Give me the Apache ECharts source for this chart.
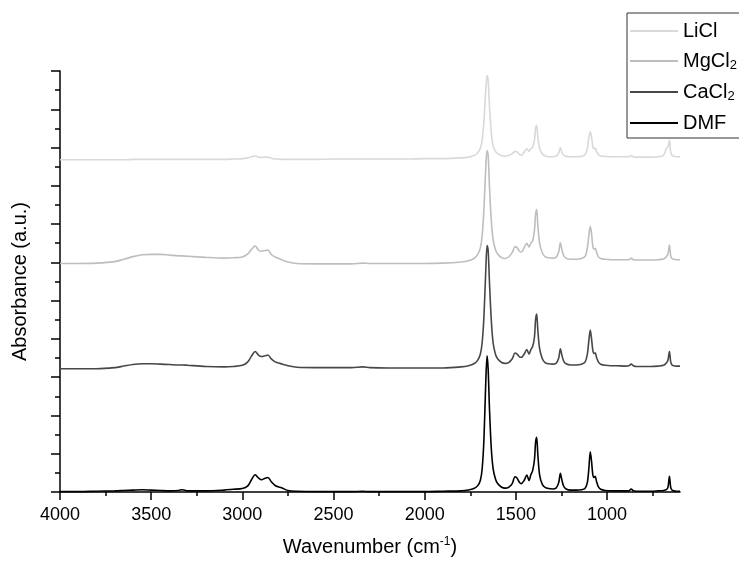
<!DOCTYPE html>
<html>
<head>
<meta charset="utf-8">
<script src="https://cdn.jsdelivr.net/npm/echarts@6/dist/echarts.min.js"></script>
<style>
  html, body { margin: 0; padding: 0; background: #fff; }
  #chart { width: 739px; height: 562px; }
</style>
</head>
<body>
<div id="chart"></div>
<script>
// wavenumber grid (cm-1), shared by all four spectra
const wavenumbers = [
  4000, 3900, 3800, 3700, 3650, 3600, 3550, 3500, 3450, 3400, 3350, 3330, 3300, 3200, 3100, 3050,
  3000, 2970, 2950, 2930, 2910, 2895, 2875, 2860, 2840, 2820, 2800, 2780, 2750, 2700, 2600, 2500,
  2400, 2340, 2300, 2200, 2100, 2000, 1900, 1800, 1760, 1730, 1710, 1695, 1685, 1675, 1665, 1658,
  1652, 1645, 1635, 1625, 1612, 1600, 1580, 1560, 1540, 1520, 1505, 1495, 1480, 1470, 1455, 1440,
  1428, 1418, 1408, 1398, 1392, 1386, 1380, 1370, 1355, 1340, 1320, 1300, 1280, 1265, 1256, 1248,
  1238, 1225, 1200, 1170, 1140, 1120, 1108, 1100, 1092, 1085, 1078, 1071, 1065, 1058, 1048, 1035,
  1010, 980, 950, 900, 880, 868, 856, 840, 800, 760, 720, 690, 675, 666, 658, 651,
  644, 635, 620, 600
];

// absorbance, stacked offsets already included (a.u.)
const dmf = [
  0.01, 0.01, 0.02, 0.03, 0.04, 0.05, 0.06, 0.05, 0.04, 0.03, 0.04, 0.06, 0.03, 0.03, 0.05, 0.07,
  0.09, 0.16, 0.32, 0.45, 0.36, 0.32, 0.36, 0.38, 0.26, 0.17, 0.13, 0.10, 0.04, 0.02, 0.01, 0.01,
  0.01, 0.02, 0.01, 0.01, 0.01, 0.01, 0.02, 0.03, 0.05, 0.09, 0.16, 0.30, 0.60, 1.40, 2.90, 3.56,
  3.20, 2.20, 1.15, 0.62, 0.34, 0.22, 0.13, 0.10, 0.12, 0.22, 0.40, 0.37, 0.25, 0.22, 0.30, 0.44,
  0.30, 0.45, 0.56, 0.85, 1.30, 1.43, 1.00, 0.45, 0.20, 0.12, 0.09, 0.08, 0.10, 0.25, 0.49, 0.32,
  0.15, 0.08, 0.05, 0.05, 0.06, 0.10, 0.25, 0.60, 1.05, 0.80, 0.45, 0.38, 0.41, 0.28, 0.14, 0.07,
  0.04, 0.03, 0.03, 0.03, 0.03, 0.08, 0.03, 0.02, 0.02, 0.02, 0.03, 0.04, 0.06, 0.12, 0.41, 0.12,
  0.05, 0.03, 0.02, 0.02
];
const caCl2 = [
  3.22, 3.22, 3.22, 3.25, 3.29, 3.33, 3.35, 3.35, 3.34, 3.33, 3.32, 3.32, 3.31, 3.28, 3.27, 3.28,
  3.31, 3.40, 3.55, 3.67, 3.57, 3.54, 3.56, 3.58, 3.47, 3.40, 3.37, 3.34, 3.30, 3.26, 3.25, 3.25,
  3.25, 3.27, 3.25, 3.24, 3.24, 3.24, 3.24, 3.27, 3.30, 3.35, 3.44, 3.60, 3.90, 4.60, 5.80, 6.44,
  6.30, 5.50, 4.50, 3.90, 3.60, 3.48, 3.39, 3.36, 3.38, 3.48, 3.63, 3.61, 3.53, 3.52, 3.60, 3.72,
  3.60, 3.72, 3.80, 4.05, 4.50, 4.65, 4.25, 3.75, 3.48, 3.38, 3.35, 3.34, 3.36, 3.50, 3.74, 3.58,
  3.42, 3.35, 3.32, 3.32, 3.34, 3.40, 3.60, 3.95, 4.23, 4.00, 3.70, 3.62, 3.64, 3.52, 3.40, 3.34,
  3.31, 3.30, 3.30, 3.29, 3.30, 3.34, 3.30, 3.28, 3.28, 3.28, 3.29, 3.31, 3.37, 3.45, 3.67, 3.40,
  3.32, 3.30, 3.29, 3.29
];
const mgCl2 = [
  5.97, 5.97, 5.98, 6.02, 6.08, 6.15, 6.20, 6.21, 6.21, 6.19, 6.17, 6.17, 6.16, 6.13, 6.11, 6.12,
  6.14, 6.22, 6.34, 6.43, 6.31, 6.29, 6.31, 6.32, 6.20, 6.14, 6.10, 6.06, 6.01, 5.97, 5.96, 5.96,
  5.96, 5.98, 5.97, 5.97, 5.97, 5.97, 5.98, 6.01, 6.04, 6.10, 6.20, 6.38, 6.70, 7.40, 8.50, 8.92,
  8.80, 8.00, 7.10, 6.60, 6.33, 6.22, 6.13, 6.10, 6.14, 6.26, 6.41, 6.39, 6.29, 6.27, 6.38, 6.50,
  6.40, 6.50, 6.56, 6.85, 7.25, 7.38, 7.00, 6.50, 6.25, 6.15, 6.12, 6.11, 6.13, 6.28, 6.51, 6.34,
  6.18, 6.11, 6.08, 6.08, 6.10, 6.16, 6.38, 6.70, 6.94, 6.75, 6.42, 6.35, 6.37, 6.27, 6.15, 6.10,
  6.08, 6.07, 6.07, 6.07, 6.07, 6.11, 6.07, 6.06, 6.06, 6.06, 6.07, 6.09, 6.15, 6.22, 6.45, 6.17,
  6.10, 6.08, 6.07, 6.07
];
const liCl = [
  8.68, 8.68, 8.68, 8.68, 8.68, 8.69, 8.69, 8.69, 8.69, 8.69, 8.69, 8.69, 8.69, 8.69, 8.69, 8.70,
  8.71, 8.73, 8.76, 8.78, 8.75, 8.74, 8.75, 8.75, 8.72, 8.70, 8.70, 8.69, 8.69, 8.69, 8.69, 8.70,
  8.70, 8.70, 8.70, 8.70, 8.70, 8.71, 8.71, 8.73, 8.75, 8.79, 8.86, 8.98, 9.20, 9.70, 10.50, 10.88,
  10.75, 10.10, 9.40, 9.05, 8.90, 8.84, 8.79, 8.77, 8.79, 8.84, 8.90, 8.89, 8.82, 8.80, 8.88, 8.97,
  8.90, 8.97, 9.01, 9.20, 9.50, 9.58, 9.30, 8.98, 8.83, 8.78, 8.76, 8.76, 8.77, 8.86, 9.00, 8.88,
  8.80, 8.77, 8.76, 8.76, 8.77, 8.82, 8.98, 9.25, 9.41, 9.28, 9.02, 8.97, 8.98, 8.90, 8.82, 8.78,
  8.77, 8.76, 8.76, 8.76, 8.76, 8.79, 8.76, 8.75, 8.75, 8.75, 8.76, 8.80, 8.98, 9.02, 9.19, 8.88,
  8.80, 8.77, 8.76, 8.76
];

const seriesNames = ["LiCl", "MgCl2", "CaCl2", "DMF"];
const seriesColors = ["#d9d9d9", "#bebebe", "#474747", "#000000"];
const majorTicks = [4000, 3500, 3000, 2500, 2000, 1500, 1000];
const minorTicks = [3750, 3250, 2750, 2250, 1750, 1250, 750];

const font = "'Liberation Sans', Arial, sans-serif";
const chart = echarts.init(document.getElementById("chart"), null, { renderer: "canvas" });

const spectra = [liCl, mgCl2, caCl2, dmf];
const series = spectra.map((values, k) => ({
  name: seriesNames[k],
  type: "line",
  data: wavenumbers.map((w, i) => [w, values[i]]),
  symbol: "none",
  smooth: 0.3,
  lineStyle: { width: 1.6, color: seriesColors[k] },
  itemStyle: { color: seriesColors[k] },
  z: 2 + k,
}));

const axisLineStyle = { color: "#000", width: 1.5 };

chart.setOption({
  animation: false,
  grid: { left: 60, right: 59, top: 71, bottom: 67 },
  legend: {
    orient: "vertical",
    left: 627,
    top: 13,
    padding: [8, 60, 5, 3],
    icon: "rect",
    itemWidth: 48,
    itemHeight: 2,
    itemGap: 10,
    borderColor: "#333",
    borderWidth: 1,
    textStyle: {
      fontFamily: font,
      fontSize: 20,
      color: "#000",
      rich: { s: { fontFamily: font, fontSize: 13, padding: [9, 0, 0, 0] } },
    },
    formatter: (name) => name.replace(/2$/, "{s|2}"),
    data: seriesNames,
  },
  xAxis: [
    {
      type: "value",
      min: 600,
      max: 4000,
      inverse: true,
      name: "Wavenumber (cm{sup|-1})",
      nameLocation: "middle",
      nameGap: 44,
      nameTextStyle: {
        fontFamily: font,
        fontSize: 20,
        color: "#000",
        rich: { sup: { fontFamily: font, fontSize: 12, padding: [0, 0, 10, 0] } },
      },
      axisLine: { show: true, onZero: false, lineStyle: axisLineStyle },
      axisTick: { show: true, inside: false, length: 8, lineStyle: axisLineStyle, customValues: majorTicks },
      axisLabel: {
        show: true,
        margin: 14,
        fontFamily: font,
        fontSize: 18,
        color: "#000",
        customValues: majorTicks,
        formatter: (v) => String(v),
      },
      splitLine: { show: false },
    },
    {
      type: "value",
      min: 600,
      max: 4000,
      inverse: true,
      position: "bottom",
      axisLine: { show: false },
      axisTick: { show: true, inside: false, length: 4, lineStyle: axisLineStyle, customValues: minorTicks },
      axisLabel: { show: false },
      splitLine: { show: false },
    },
  ],
  yAxis: {
    type: "value",
    min: 0,
    max: 11,
    interval: 1,
    name: "Absorbance (a.u.)",
    nameLocation: "middle",
    nameGap: 30,
    nameTextStyle: { fontFamily: font, fontSize: 20, color: "#000" },
    axisLine: { show: true, lineStyle: axisLineStyle },
    axisTick: { show: true, inside: false, length: 9, lineStyle: axisLineStyle },
    minorTick: { show: true, splitNumber: 2, length: 5, lineStyle: axisLineStyle },
    axisLabel: { show: false },
    splitLine: { show: false },
    minorSplitLine: { show: false },
  },
  series: series,
});
</script>
</body>
</html>
